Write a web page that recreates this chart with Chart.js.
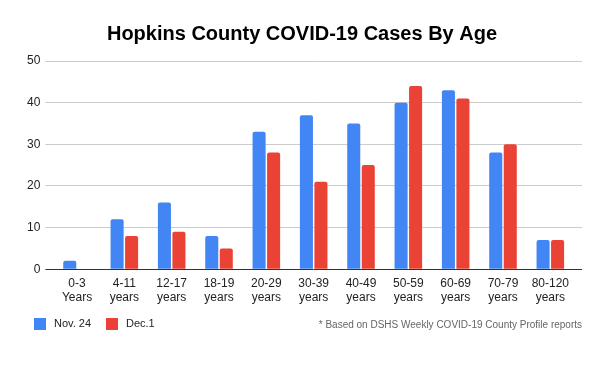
<!DOCTYPE html>
<html>
<head>
<meta charset="utf-8">
<script src="https://cdn.jsdelivr.net/npm/chart.js@4"></script>
<style>
  html, body { margin: 0; padding: 0; background: #fff; }
</style>
</head>
<body>
<canvas id="ageChart" width="600" height="371"></canvas>
<script>
const ageGroups = [
  ['0-3', 'Years'], ['4-11', 'years'], ['12-17', 'years'], ['18-19', 'years'],
  ['20-29', 'years'], ['30-39', 'years'], ['40-49', 'years'], ['50-59', 'years'],
  ['60-69', 'years'], ['70-79', 'years'], ['80-120', 'years']
];
const nov24 = [2, 12, 16, 8, 33, 37, 35, 40, 43, 28, 7];
const dec1 = [0, 8, 9, 5, 28, 21, 25, 44, 41, 30, 7];
const footnote = '* Based on DSHS Weekly COVID-19 County Profile reports';
const FONT = '"Liberation Sans", Arial, sans-serif';

// legend row at the bottom: swatches on the left, footnote on the right
const bottomRow = {
  id: 'bottomRow',
  afterDraw(chart){
    const ctx = chart.ctx;
    ctx.save();
    ctx.textBaseline = 'middle';
    ctx.font = '11px ' + FONT;
    let x = 34;
    chart.data.datasets.forEach((ds)=>{
      ctx.fillStyle = ds.backgroundColor;
      ctx.fillRect(x, 318, 12, 12);
      ctx.fillStyle = '#222';
      ctx.textAlign = 'left';
      ctx.fillText(ds.label, x + 20, 324);
      x += 72;
    });
    ctx.font = '10px ' + FONT;
    ctx.fillStyle = '#666';
    ctx.textAlign = 'right';
    ctx.fillText(footnote, chart.width - 18, 325);
    ctx.restore();
  }
};

// grid lines run a little past the bars on both sides, zero line is dark
const gridColor = (c)=> c.tick && c.tick.value === 0 ? '#333' : '#ccc';

const ctx = document.getElementById('ageChart').getContext('2d');
new Chart(ctx, {
  type: 'bar',
  data: {
    labels: ageGroups,
    datasets: [
      { label: 'Nov. 24', data: nov24, backgroundColor: '#4285F4', borderRadius: 2, borderSkipped: 'bottom' },
      { label: 'Dec.1', data: dec1, backgroundColor: '#EA4335', borderRadius: 2, borderSkipped: 'bottom' }
    ]
  },
  options: {
    responsive: false,
    animation: false,
    devicePixelRatio: 1,
    layout: { padding: { left: 22, right: 18, top: 0, bottom: 59 } },
    datasets: { bar: { categoryPercentage: 0.613, barPercentage: 0.9 } },
    plugins: {
      title: {
        display: true,
        text: 'Hopkins County COVID-19 Cases By Age',
        color: '#000',
        font: { family: FONT, size: 20, weight: 'bold' },
        padding: { top: 22, bottom: 15 }
      },
      legend: { display: false },
      tooltip: { enabled: false }
    },
    scales: {
      x: {
        grid: { display: false, drawTicks: false },
        border: { display: false },
        ticks: {
          color: '#222', padding: 7, maxRotation: 0, autoSkip: false,
          font: { family: FONT, size: 12 }
        }
      },
      y: {
        min: 0, max: 50,
        grid: { color: gridColor, tickLength: 8 },
        border: { display: false },
        ticks: {
          stepSize: 10, color: '#222', padding: 5,
          font: { family: FONT, size: 12 }
        }
      },
      yRight: {
        position: 'right',
        min: 0, max: 50,
        grid: { color: gridColor, tickLength: 8, drawOnChartArea: false },
        border: { display: false },
        ticks: { stepSize: 10, display: false }
      }
    }
  },
  plugins: [bottomRow]
});
</script>
</body>
</html>
